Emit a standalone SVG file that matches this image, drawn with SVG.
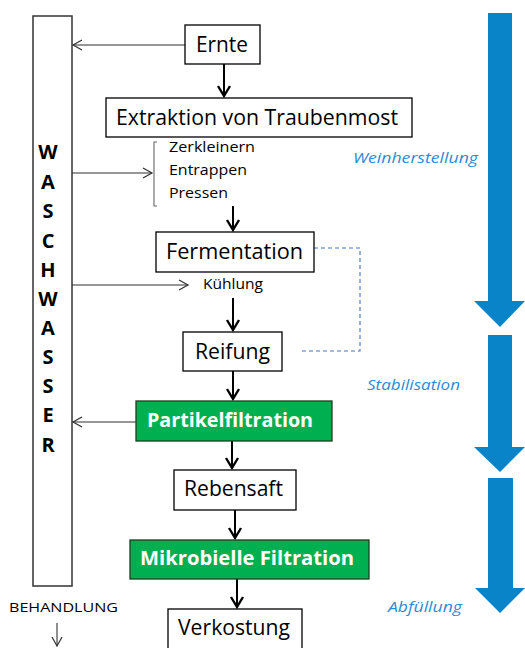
<svg xmlns="http://www.w3.org/2000/svg" width="525" height="648" viewBox="0 0 525 648">
<defs>
<style>
.box{fill:#fff;stroke:#000;stroke-width:1.3}
.gbox{fill:#00B050;stroke:#1e3d1e;stroke-width:1.3}
.t{font-family:"Open Sans","Liberation Sans",sans-serif;fill:#000;text-anchor:middle}
.big{font-size:21px}
.sm{font-size:14px}
.g{font-family:"Open Sans","Liberation Sans",sans-serif;font-weight:bold;font-size:19px;fill:#fff;text-anchor:middle}
.ws{font-family:"Open Sans","Liberation Sans",sans-serif;font-weight:bold;font-size:20px;fill:#000;text-anchor:middle}
.lab{font-family:"Open Sans","Liberation Sans",sans-serif;font-style:italic;font-size:15px;fill:#2F8AD6}
.flow{stroke:#000;stroke-width:2;fill:none}
.side{stroke:#303030;stroke-width:1.2;fill:none}
.big-arrow{fill:#0A84C8}
</style>
<marker id="hs" markerUnits="userSpaceOnUse" markerWidth="14" markerHeight="14" viewBox="-12 -7 14 14" refX="0" refY="0" orient="auto">
<path d="M-9,-5 L0,0 L-9,5" fill="none" stroke="#303030" stroke-width="1.2"/>
</marker>
<marker id="hf2" markerUnits="userSpaceOnUse" markerWidth="16" markerHeight="16" viewBox="-12 -8 14 16" refX="0" refY="0" orient="auto">
<path d="M-10,-6 L0,0 L-10,6" fill="none" stroke="#000" stroke-width="2.4"/>
</marker>
</defs>

<g id="big-arrows">
<path class="big-arrow" d="M488,13 L512,13 L512,301 L525,301 L500,327 L474,301 L488,301 Z"/>
<path class="big-arrow" d="M488,335 L512,335 L512,447 L525,447 L500,472 L474,447 L488,447 Z"/>
<path class="big-arrow" d="M488,478 L513,478 L513,588 L525,588 L500,613 L475,588 L488,588 Z"/>
</g>

<g id="phase-labels">
<text class="lab" x="353" y="163" textLength="125" lengthAdjust="spacingAndGlyphs">Weinherstellung</text>
<text class="lab" x="367" y="390" textLength="93" lengthAdjust="spacingAndGlyphs">Stabilisation</text>
<text class="lab" x="388" y="612" textLength="74" lengthAdjust="spacingAndGlyphs">Abfüllung</text>
</g>

<g id="waschwasser">
<rect x="33" y="16" width="39" height="570" fill="#fff" stroke="#333" stroke-width="1.5"/>
<text class="ws" x="48" y="159">W</text>
<text class="ws" x="48" y="189">A</text>
<text class="ws" x="48" y="218">S</text>
<text class="ws" x="48" y="248">C</text>
<text class="ws" x="48" y="277">H</text>
<text class="ws" x="48" y="306">W</text>
<text class="ws" x="48" y="335">A</text>
<text class="ws" x="48" y="364">S</text>
<text class="ws" x="48" y="393">S</text>
<text class="ws" x="48" y="422">E</text>
<text class="ws" x="48" y="452">R</text>
</g>

<g id="connectors">
<line class="side" x1="185" y1="45" x2="73" y2="45" marker-end="url(#hs)"/>
<line class="side" x1="72" y1="173" x2="152" y2="173" marker-end="url(#hs)"/>
<line class="side" x1="72" y1="285" x2="188" y2="285" marker-end="url(#hs)"/>
<line class="side" x1="136" y1="422" x2="73" y2="422" marker-end="url(#hs)"/>
<line class="flow" x1="224" y1="64" x2="224" y2="96" marker-end="url(#hf2)"/>
<line class="flow" x1="233" y1="206" x2="233" y2="230" marker-end="url(#hf2)"/>
<line class="flow" x1="233" y1="298" x2="233" y2="330" marker-end="url(#hf2)"/>
<line class="flow" x1="233" y1="371" x2="233" y2="399" marker-end="url(#hf2)"/>
<line class="flow" x1="232" y1="441" x2="232" y2="468" marker-end="url(#hf2)"/>
<line class="flow" x1="235" y1="510" x2="235" y2="538" marker-end="url(#hf2)"/>
<line class="flow" x1="237" y1="579" x2="237" y2="607" marker-end="url(#hf2)"/>
<line x1="57" y1="623" x2="57" y2="646" stroke="#333" stroke-width="1.1" marker-end="url(#hs)"/>
<path d="M314,248 H360 V351 H300" fill="none" stroke="#4472C4" stroke-width="1.1" stroke-dasharray="4 3"/>
</g>

<g id="ernte">
<rect class="box" x="185" y="25" width="75" height="39"/>
<text class="t big" x="222" y="52" textLength="52" lengthAdjust="spacingAndGlyphs">Ernte</text>
</g>

<g id="extraktion">
<rect class="box" x="106" y="98" width="306" height="39"/>
<text class="t big" x="257" y="125" textLength="282" lengthAdjust="spacingAndGlyphs">Extraktion von Traubenmost</text>
</g>

<g id="extraktion-schritte">
<path d="M157,142 H154 V206 H157" fill="none" stroke="#666" stroke-width="1.1"/>
<text class="t sm" x="212" y="152" textLength="86" lengthAdjust="spacingAndGlyphs">Zerkleinern</text>
<text class="t sm" x="208" y="175" textLength="78" lengthAdjust="spacingAndGlyphs">Entrappen</text>
<text class="t sm" x="198.5" y="198" textLength="59" lengthAdjust="spacingAndGlyphs">Pressen</text>
</g>

<g id="fermentation">
<rect class="box" x="156" y="232" width="158" height="40"/>
<text class="t big" x="234.5" y="259" textLength="137" lengthAdjust="spacingAndGlyphs">Fermentation</text>
</g>

<g id="kuehlung">
<text class="t sm" x="233" y="289" textLength="60" lengthAdjust="spacingAndGlyphs">Kühlung</text>
</g>

<g id="reifung">
<rect class="box" x="183" y="332" width="99" height="39"/>
<text class="t big" x="232.5" y="359" textLength="75" lengthAdjust="spacingAndGlyphs">Reifung</text>
</g>

<g id="partikelfiltration">
<rect class="gbox" x="136" y="401" width="196" height="40"/>
<text class="g" x="230" y="427" textLength="166" lengthAdjust="spacingAndGlyphs">Partikelfiltration</text>
</g>

<g id="rebensaft">
<rect class="box" x="174" y="470" width="122" height="40"/>
<text class="t big" x="233.5" y="496" textLength="99" lengthAdjust="spacingAndGlyphs">Rebensaft</text>
</g>

<g id="mikrobielle-filtration">
<rect class="gbox" x="130" y="540" width="239" height="39"/>
<text class="g" x="247" y="565" textLength="214" lengthAdjust="spacingAndGlyphs">Mikrobielle Filtration</text>
</g>

<g id="verkostung">
<rect class="box" x="168" y="609" width="134" height="45"/>
<text class="t big" x="234" y="635" textLength="112" lengthAdjust="spacingAndGlyphs">Verkostung</text>
</g>

<g id="behandlung">
<text class="t" x="63.5" y="612" font-size="13" textLength="109" lengthAdjust="spacingAndGlyphs">BEHANDLUNG</text>
</g>
</svg>
